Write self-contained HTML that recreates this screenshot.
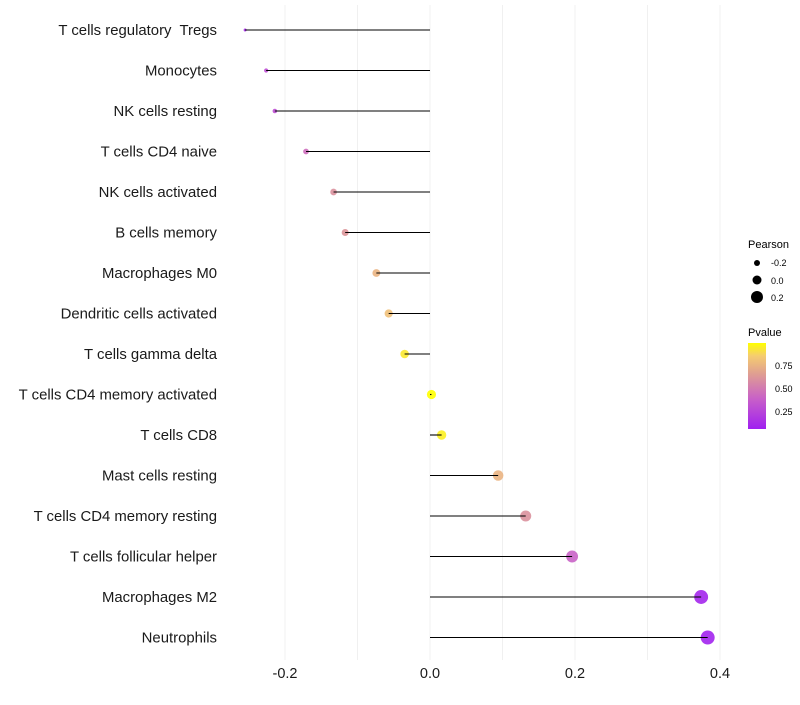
<!DOCTYPE html>
<html><head><meta charset="utf-8"><style>
body{margin:0;background:#fff;font-family:"Liberation Sans",sans-serif}
svg text{font-family:"Liberation Sans",sans-serif;white-space:pre}
</style></head><body>
<svg id="chart" width="800" height="700" xmlns="http://www.w3.org/2000/svg">
<defs><linearGradient id="pg" x1="0" y1="1" x2="0" y2="0">
<stop offset="0" stop-color="#a020f0"/><stop offset="0.35" stop-color="#c860c8"/><stop offset="0.65" stop-color="#e0a090"/><stop offset="0.85" stop-color="#f5cc70"/><stop offset="1" stop-color="#ffff00"/></linearGradient></defs>
<g id="grid"></g>
<g id="pts"></g>
<g id="marks"></g>
<g id="labels"></g>
<g id="xticks"></g>
<g>
<text x="748" y="248" font-size="11">Pearson</text>
<circle cx="757" cy="263" r="3" fill="#000"/><text x="771" y="266" font-size="9">-0.2</text>
<circle cx="757" cy="280" r="4.5" fill="#000"/><text x="771" y="284" font-size="9">0.0</text>
<circle cx="757" cy="297" r="6" fill="#000"/><text x="771" y="301" font-size="9">0.2</text>
</g>
<g>
<text x="748" y="336" font-size="11">Pvalue</text>
<rect x="748" y="343" width="18" height="86" fill="url(#pg)"/>
<text x="775" y="369" font-size="9">0.75</text>
<text x="775" y="392" font-size="9">0.50</text>
<text x="775" y="415" font-size="9">0.25</text>
</g>
</svg>
<script>
const categories=["T cells regulatory  Tregs","Monocytes","NK cells resting","T cells CD4 naive","NK cells activated","B cells memory","Macrophages M0","Dendritic cells activated","T cells gamma delta","T cells CD4 memory activated","T cells CD8","Mast cells resting","T cells CD4 memory resting","T cells follicular helper","Macrophages M2","Neutrophils"];
const pearson=[-0.255,-0.226,-0.214,-0.171,-0.133,-0.117,-0.074,-0.057,-0.035,0.002,0.016,0.094,0.132,0.196,0.374,0.383];
const pvalue=[0.12,0.3,0.3,0.45,0.6,0.62,0.75,0.8,0.93,0.99,0.95,0.75,0.6,0.4,0.1,0.08];
const xTicks=[-0.2,0,0.2,0.4];
const xTickLabels=["-0.2","0.0","0.2","0.4"];
const gridVals=[-0.2,-0.1,0,0.1,0.2,0.3,0.4];
const NS="http://www.w3.org/2000/svg";
const xs=v=>430+v*725;
const ys=i=>30+i*40.5;
const rs=v=>Math.sqrt(Math.max(1.5,20.9+73.3*v));
const stops=[[0,[160,32,240]],[0.35,[200,96,200]],[0.65,[224,160,144]],[0.85,[245,204,112]],[1,[255,255,0]]];
function col(p){const t=Math.max(0,Math.min(1,(p-0.065)/(0.99-0.065)));for(let k=1;k<stops.length;k++){if(t<=stops[k][0]){const a=stops[k-1],b=stops[k],f=(t-a[0])/(b[0]-a[0]);return "rgb("+a[1].map((c,j)=>Math.round(c+(b[1][j]-c)*f)).join(",")+")";}}return "#ff0";}
function mk(tag,at,parent){const e=document.createElementNS(NS,tag);for(const k in at)e.setAttribute(k,at[k]);document.getElementById(parent).appendChild(e);return e;}
gridVals.forEach(v=>{const l=mk("line",{x1:xs(v),x2:xs(v),y1:5,y2:660,stroke:"#f0f0f0","stroke-width":1},"grid");

});
categories.forEach((c,i)=>{
const ci=mk("circle",{cx:xs(pearson[i]),cy:ys(i),r:rs(pearson[i]),fill:col(pvalue[i]),"fill-opacity":0.9},"pts");


const ln=mk("line",{x1:xs(0),x2:xs(pearson[i]),y1:ys(i),y2:ys(i),stroke:"#000","stroke-width":1.1},"marks");


const t=mk("text",{x:217,y:ys(i)+5,"text-anchor":"end","font-size":14.9,fill:"#1a1a1a"},"labels");
t.textContent=c;


});
xTicks.forEach((v,i)=>{const t=mk("text",{x:xs(v),y:678,"text-anchor":"middle","font-size":14.5,fill:"#1a1a1a"},"xticks");
t.textContent=xTickLabels[i];

});
</script>
</body></html>
